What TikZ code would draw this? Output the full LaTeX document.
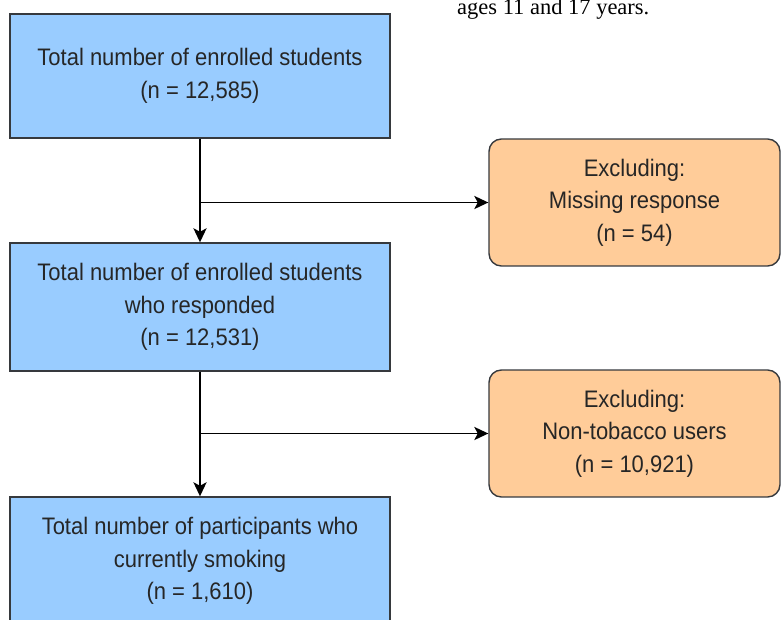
\documentclass[tikz,border=0pt]{standalone}
\usepackage{fontspec}
\setmainfont{Liberation Sans}
\newfontfamily\capfont{Liberation Serif}
\newfontfamily\boxfont[FakeStretch=0.92]{Liberation Sans}
\usetikzlibrary{arrows.meta}
\definecolor{boxblue}{HTML}{99CCFF}
\definecolor{boxorange}{HTML}{FFCC99}
\definecolor{boxline}{HTML}{36393D}

\begin{document}
\begin{tikzpicture}[x=0.02cm, y=-0.02cm,
        >={Stealth[length=8pt, width=7.5pt, inset=2pt]},
        stepbox/.style={draw=boxline, line width=0.8pt, fill=boxblue, minimum width=7.6cm, minimum height=2.56cm, align=center, text=black!85, font=\boxfont\fontsize{13.6}{18.5}\selectfont},
        exclbox/.style={stepbox, fill=boxorange, rounded corners=7pt, minimum width=5.82cm, minimum height=2.54cm},
        flow/.style={->, line width=1pt}]
            %\draw[lightgray] (0, 0) grid[step=50] (781, 619);
            \clip (0, 0) rectangle (781, 619);
            \node[anchor=base west, font=\capfont\fontsize{12.8}{15}\selectfont] (caption) at (451, 14) {ages 11 and 17 years.};
            \node[stepbox, minimum height=2.48cm] (enrolled) at (200, 76) {Total number of enrolled students\\(n = 12,585)};
            \node[stepbox] (responded) at (200, 307) {Total number of enrolled students\\who responded\\(n = 12,531)};
            \node[stepbox] (smoking) at (200, 561) {Total number of participants who\\currently smoking\\(n = 1,610)};
            \node[exclbox] (missing) at (634.5, 202.5) {Excluding:\\Missing response\\(n = 54)};
            \node[exclbox] (nontobacco) at (634.5, 433.5) {Excluding:\\Non-tobacco users\\(n = 10,921)};
            \draw[flow] (enrolled.south) -- (responded.north);
            \draw[flow] (enrolled.south |- missing.west) -- (missing.west);
            \draw[flow] (responded.south) -- (smoking.north);
            \draw[flow] (responded.south |- nontobacco.west) -- (nontobacco.west);
        \end{tikzpicture}
\end{document}
